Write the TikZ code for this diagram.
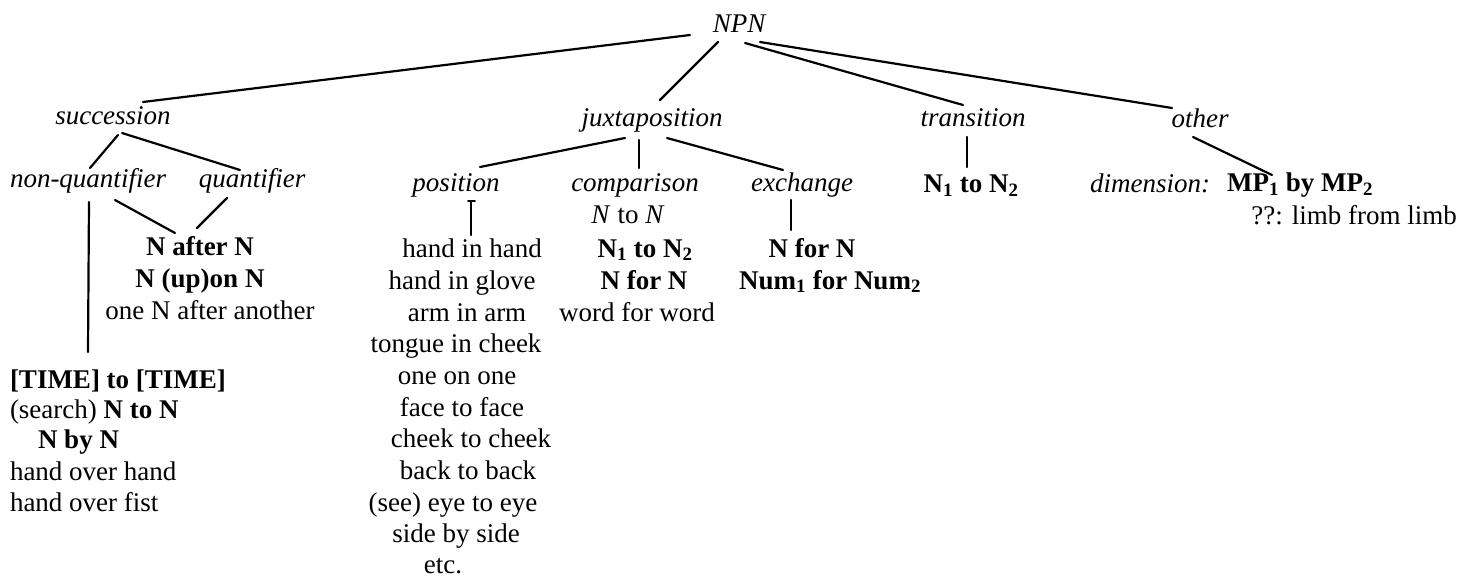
\documentclass[tikz,border=0pt]{standalone}
\usepackage{fontspec}
\setmainfont{Liberation Serif}
\newcommand{\conn}[4]{\draw[edge] ([shift={#2}]#1) -- ([shift={#4}]#3);}
\begin{document}
\begin{tikzpicture}[x=1pt,y=-1pt,
  every node/.style={inner sep=0pt,outer sep=0pt,font=\fontsize{27}{32}\selectfont},
  lab/.style={anchor=base,font=\fontsize{27}{32}\selectfont\itshape},
  frm/.style={anchor=base,font=\fontsize{27}{32}\selectfont\bfseries},
  ex/.style={anchor=base},
  edge/.style={line width=2.2pt,line cap=round}]
\useasboundingbox (0,0) rectangle (1461,580);
% top
\node[lab] (npn) at (739,33) {NPN};
\node[lab] (succ) at (113,125) {succession};
\node[lab] (juxt) at (652,127) {juxtaposition};
\node[lab] (trans) at (973,127) {transition};
\node[lab] (other) at (1200,128) {other};
% succession
\node[lab] (nonq) at (88,188) {non-quantifier};
\node[lab] (quant) at (252,188) {quantifier};
\node[frm] (after) at (200,255) {N after N};
\node[frm] (upon) at (200,287) {N (up)on N};
\node[ex] (another) at (210,319) {one N after another};
\node[frm,anchor=base west] (time) at (10,388) {[TIME] to [TIME]};
\node[ex,anchor=base west] (search) at (10,418) {(search) \textbf{N to N}};
\node[frm,anchor=base west] (nbyn) at (38,448) {N by N};
\node[ex,anchor=base west] (hoh) at (10,480) {hand over hand};
\node[ex,anchor=base west] (hof) at (10,511) {hand over fist};
% juxtaposition
\node[lab] (pos) at (456,192) {position};
\node[lab] (comp) at (635,192) {comparison};
\node[lab] (exch) at (802,192) {exchange};
\node[ex] (hih) at (472,257) {hand in hand};
\node[ex] (hig) at (462,289) {hand in glove};
\node[ex] (aia) at (467,321) {arm in arm};
\node[ex] (tic) at (456,352) {tongue in cheek};
\node[ex] (ooo) at (457,384) {one on one};
\node[ex] (ftf) at (462,416) {face to face};
\node[ex] (ctc) at (471,447) {cheek to cheek};
\node[ex] (btb) at (468,479) {back to back};
\node[ex] (ete) at (453,511) {(see) eye to eye};
\node[ex] (sbs) at (456,542) {side by side};
\node[ex] (etc) at (443,573) {etc.};
\node[ex] (ntn) at (628,223) {\textit{N} to \textit{N}};
\node[frm] (cn1) at (645,257) {N\textsubscript{1} to N\textsubscript{2}};
\node[frm] (cnfn) at (644,289) {N for N};
\node[ex] (wfw) at (637,321) {word for word};
\node[frm] (enfn) at (812,257) {N for N};
\node[frm] (num) at (830,289) {Num\textsubscript{1} for Num\textsubscript{2}};
% transition
\node[frm] (tn1) at (971,193) {N\textsubscript{1} to N\textsubscript{2}};
% other
\node[lab,anchor=base west] (dim) at (1090,193) {dimension:};
\node[frm] (mp) at (1300,192) {MP\textsubscript{1} by MP\textsubscript{2}};
\node[ex] (limb) at (1354,225) {??: limb from limb};
% connectors
\conn{npn.base}{(-49,2)}{succ.base}{(30,-23)}
\conn{npn.base}{(-21,9)}{juxt.base}{(8,-27)}
\conn{npn.base}{(6,10)}{trans.base}{(-10,-22)}
\conn{npn.base}{(21,9)}{other.base}{(-28,-20)}
\conn{succ.base}{(5,10)}{nonq.base}{(2,-20)}
\conn{succ.base}{(9,8)}{quant.base}{(-12,-18)}
\conn{nonq.base}{(1,14)}{time.base west}{(78,-36)}
\conn{nonq.base}{(27,12)}{after.base}{(-25,-22)}
\conn{quant.base}{(-25,10)}{after.base}{(-3,-27)}
\conn{juxt.base}{(-27,11)}{pos.base}{(24,-25)}
\conn{juxt.base}{(-13,13)}{comp.base}{(4,-24)}
\conn{juxt.base}{(15,11)}{exch.base}{(-19,-22)}
\conn{pos.base}{(15,9)}{hih.base}{(-1,-22)}
\draw[edge,line width=1.6pt] ([shift={(12,9)}]pos.base) -- ([shift={(19,9)}]pos.base);
\conn{exch.base}{(-11,8)}{enfn.base}{(-21,-27)}
\conn{trans.base}{(-6,10)}{tn1.base}{(-4,-26)}
\conn{other.base}{(-7,9)}{mp.base}{(-28,-17)}
\end{tikzpicture}
\end{document}
